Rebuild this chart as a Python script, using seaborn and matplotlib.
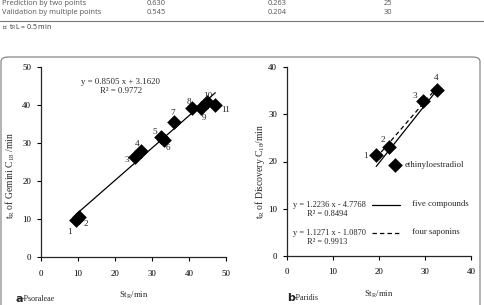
import matplotlib
matplotlib.use("Agg")
import matplotlib.pyplot as plt
import seaborn as sns
import numpy as np
import pandas as pd
from matplotlib.patches import FancyBboxPatch

# ---------------- data ----------------
a_labels = ["1", "2", "3", "4", "5", "6", "7", "8", "9", "10", "11"]
a_st = [9.5, 10.3, 25.3, 27.0, 32.5, 33.2, 35.9, 40.9, 43.3, 44.9, 47.1]
a_tr = [9.7, 10.5, 26.2, 28.0, 31.5, 30.8, 35.6, 39.3, 39.3, 40.7, 40.0]
a_slope, a_icpt, a_r2 = 0.8505, 3.1620, 0.9772

b_labels = ["1", "2", "3", "4", "ethinyloestradiol"]
b_st = [19.4, 22.1, 29.5, 32.5, 23.5]
b_tr = [21.3, 23.0, 32.8, 35.2, 19.3]
b_five = (1.2236, -4.7768, 0.8494)
b_four = (1.1271, -1.0870, 0.9913)

table_rows = [["Prediction by two points", "0.630", "0.263", "25"],
              ["Validation by multiple points", "0.545", "0.204", "30"]]
a_ticks = [0, 10, 20, 30, 40, 50]
b_ticks = [0, 10, 20, 30, 40]

# ---------------- style ----------------
sns.set_theme(style="ticks")
plt.rcParams["font.family"] = ["Liberation Serif", "DejaVu Serif"]
plt.rcParams["mathtext.fontset"] = "custom"
plt.rcParams["mathtext.rm"] = "Liberation Serif"
plt.rcParams["mathtext.it"] = "Liberation Serif:italic"
plt.rcParams["axes.linewidth"] = 0.9
plt.rcParams["xtick.major.width"] = 0.8
plt.rcParams["ytick.major.width"] = 0.8

W, H = 484, 305
fig = plt.figure(figsize=(W / 100, H / 100), dpi=100)
fig.patch.set_facecolor("white")

def fx(px): return px / W
def fy(py): return 1 - py / H

# table fragment at top
sans = ["Open Sans", "DejaVu Sans"]
tcol = "#555555"
row_y = [3.5, 13]
col_x = [2, 147, 268, 384]
for r, yy in zip(table_rows, row_y):
    for c, xx in zip(r, col_x):
        fig.text(fx(xx), fy(yy), c, fontsize=5.4, family=sans, color=tcol,
                 ha="left", va="center")
fig.add_artist(plt.Line2D([0, 1], [fy(21), fy(21)], color="#777777", lw=0.8))
fig.text(fx(2), fy(27.5), "ᵃ  t$_\\mathregular{R}$L = 0.5 min", fontsize=5.0, family=sans,
         color="#333333", ha="left", va="center")

# rounded frame
frame = FancyBboxPatch((fx(1), fy(340)), fx(479), fy(57) - fy(340),
                       boxstyle="round,pad=0,rounding_size=0.015",
                       transform=fig.transFigure, fill=False,
                       edgecolor="#888888", lw=0.9)
fig.add_artist(frame)

fs = 6.3      # general serif text
fst = 6.4     # tick labels
fyl = 6.9     # y labels

# ---------------- panel a ----------------
ax1 = fig.add_axes([fx(41), fy(257), fx(185), fy(67) - fy(257)])
dfa = pd.DataFrame({"St": a_st, "tR": a_tr, "lab": a_labels})
sns.scatterplot(data=dfa, x="St", y="tR", marker="D", s=56, color="black",
                edgecolor="black", linewidth=0, ax=ax1, zorder=3)
xa = np.array([min(a_st), max(a_st)])
ax1.plot(xa, a_slope * xa + a_icpt, color="black", lw=0.9, zorder=2)
offs_a = {"1": (-1.9, -3.2), "2": (1.8, -1.8), "3": (-2.2, -0.6), "4": (-1.0, 1.8),
          "5": (-1.8, 1.4), "6": (1.1, -2.0), "7": (-0.3, 2.3), "8": (-1.0, 1.4),
          "9": (0.8, -2.6), "10": (0.3, 1.8), "11": (2.7, -1.2)}
for lab, x, y in zip(a_labels, a_st, a_tr):
    dx, dy = offs_a[lab]
    ax1.text(x + dx, y + dy, lab, fontsize=fs + 0.3, ha="center", va="center", color="#222222")
ax1.text(21.6, 46.1, f"y = {a_slope:.4f} x + {a_icpt:.4f}", fontsize=fs,
         ha="center", va="center")
ax1.text(21.6, 43.6, f"R² = {a_r2:.4f}", fontsize=fs, ha="center", va="center")
ax1.set_xlim(0, 50)
ax1.set_ylim(0, 50)
ax1.set_xticks(a_ticks)
ax1.set_yticks(a_ticks)
ax1.set_xlabel("St$_\\mathregular{R}$/min", fontsize=fs)
ax1.set_ylabel("t$_\\mathregular{R}$ of Gemini C$_\\mathregular{18}$ /min", fontsize=fyl)
ax1.xaxis.set_label_coords(0.5, -0.175)
ax1.yaxis.set_label_coords(-0.13, 0.43)
ax1.tick_params(labelsize=fst, length=3, pad=6, colors="black")
ax1.tick_params(axis="y", pad=4)
sns.despine(ax=ax1)

# ---------------- panel b ----------------
ax2 = fig.add_axes([fx(287), fy(256), fx(184), fy(67) - fy(256)])
dfb = pd.DataFrame({"St": b_st, "tR": b_tr, "lab": b_labels})
sns.scatterplot(data=dfb, x="St", y="tR", marker="D", s=56, color="black",
                edgecolor="black", linewidth=0, ax=ax2, zorder=3)
xb = np.array([min(b_st), max(b_st)])
ax2.plot(xb, b_five[0] * xb + b_five[1], color="black", lw=0.9, zorder=2)
ax2.plot(xb, b_four[0] * xb + b_four[1], color="black", lw=0.9, ls=(0, (3.5, 2.5)), zorder=2)
offs_b = {"1": (-2.3, -0.2), "2": (-1.2, 1.6), "3": (-1.8, 1.0), "4": (0.0, 2.5)}
for lab, x, y in zip(b_labels, b_st, b_tr):
    if lab in offs_b:
        dx, dy = offs_b[lab]
        ax2.text(x + dx, y + dy, lab, fontsize=fs + 0.3, ha="center", va="center", color="#222222")
    else:
        ax2.text(25.6, y, lab, fontsize=fs, ha="left", va="center")
# legend-like block
fl = 6.0
ax2.text(1.3, 10.8, f"y = {b_five[0]:.4f} x - {abs(b_five[1]):.4f}", fontsize=fl,
         ha="left", va="center")
ax2.text(4.35, 8.9, f"R² = {b_five[2]:.4f}", fontsize=fl, ha="left", va="center")
ax2.plot([18.5, 24.6], [10.8, 10.8], color="black", lw=0.9, clip_on=False)
ax2.text(27.2, 10.9, "five compounds", fontsize=fs, ha="left", va="center")
ax2.text(1.3, 4.9, f"y = {b_four[0]:.4f} x - {abs(b_four[1]):.4f}", fontsize=fl,
         ha="left", va="center")
ax2.text(4.35, 3.0, f"R² = {b_four[2]:.4f}", fontsize=fl, ha="left", va="center")
ax2.plot([18.5, 24.6], [4.9, 4.9], color="black", lw=0.9, ls=(0, (3.5, 2.5)), clip_on=False)
ax2.text(27.2, 5.0, "four saponins", fontsize=fs, ha="left", va="center")
ax2.set_xlim(0, 40)
ax2.set_ylim(0, 40)
ax2.set_xticks(b_ticks)
ax2.set_yticks(b_ticks)
ax2.set_xlabel("St$_\\mathregular{R}$/min", fontsize=fs)
ax2.set_ylabel("t$_\\mathregular{R}$ of Discovery C$_\\mathregular{18}$/min", fontsize=fyl)
ax2.xaxis.set_label_coords(0.5, -0.175)
ax2.yaxis.set_label_coords(-0.11, 0.45)
ax2.tick_params(labelsize=fst, length=3, pad=6, colors="black")
ax2.tick_params(axis="y", pad=4)
sns.despine(ax=ax2)

# panel captions
fig.text(fx(15), fy(299), "a", fontsize=8, family=["DejaVu Sans"], weight="bold",
         ha="left", va="center")
fig.text(fx(22), fy(299), "-Psoraleae", fontsize=5.8, ha="left", va="center")
fig.text(fx(287), fy(298), "b", fontsize=8, family=["DejaVu Sans"], weight="bold",
         ha="left", va="center")
fig.text(fx(294), fy(298), "-Paridis", fontsize=5.8, ha="left", va="center")

fig.savefig("out.png", dpi=100, facecolor="white")
